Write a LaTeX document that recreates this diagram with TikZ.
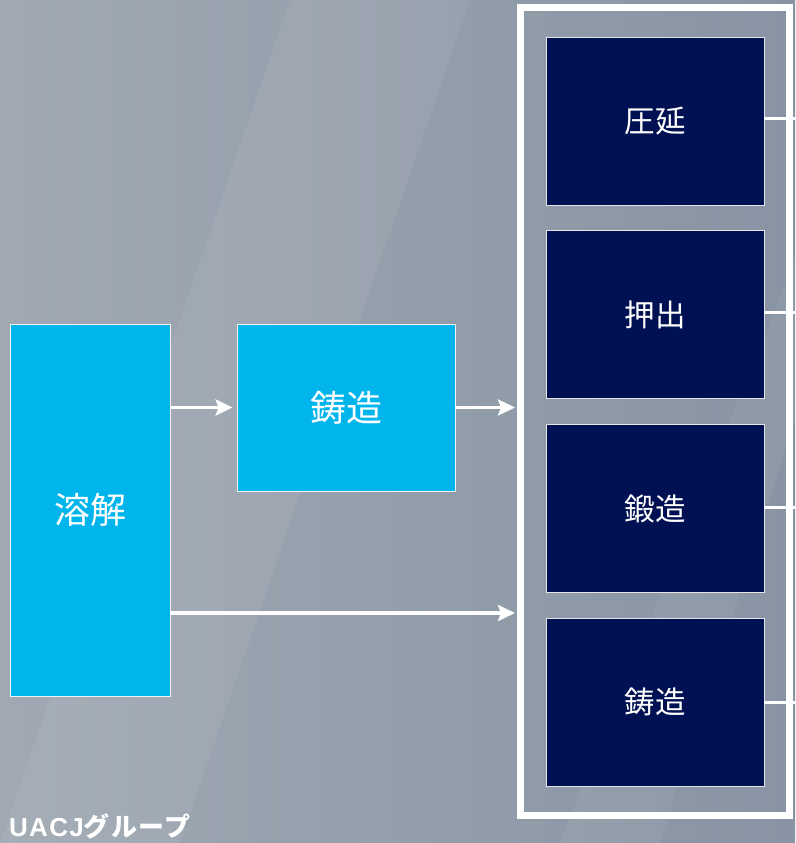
\documentclass[tikz,border=0pt]{standalone}
\usepackage{fontspec}
\newfontfamily\jp{Noto Sans CJK JP}
\newfontfamily\lblfont[LetterSpace=5]{Liberation Sans}
\newfontfamily\lbljp[LetterSpace=6]{Noto Sans CJK JP}
\usetikzlibrary{arrows.meta,calc}
\definecolor{lightblue}{HTML}{00B4EC}
\definecolor{navy}{HTML}{001153}
\definecolor{bgA}{HTML}{A0A9B3}
\definecolor{bgB}{HTML}{8894A3}
\begin{document}
\begin{tikzpicture}[x=1pt,y=-1pt,
  lbox/.style={draw=white!90!gray,line width=0.8pt,fill=lightblue,text=white,inner sep=0pt,font=\jp\fontsize{36}{42}\selectfont},
  dbox/.style={draw=white!80!gray,line width=0.8pt,fill=navy,text=white,inner sep=0pt,minimum width=218pt,minimum height=168pt,font=\jp\fontsize{30.5}{36}\selectfont},
  arr/.style={draw=white,line width=3.5pt,-{Stealth[length=17pt,width=16pt,inset=3pt]}},
  link/.style={draw=white,line width=3pt}]
\useasboundingbox (0,0) rectangle (795,843);
\shade[left color=bgA,right color=bgB] (0,0) rectangle (795,843);
\fill[white,opacity=0.06] (0,843) -- (180,843) -- (470,0) -- (290,0) -- cycle;
\fill[white,opacity=0.05] (560,843) -- (660,843) -- (795,420) -- (795,260) -- cycle;
% outer frame
\node[draw=white,line width=7pt,minimum width=269pt,minimum height=808pt,inner sep=0pt] (grp) at (655,411.5) {};
\coordinate (edge) at (795,0);
% boxes
\node[lbox,minimum width=160pt,minimum height=372pt] (melt) at (90,510) {溶解};
\node[lbox,minimum width=218pt,minimum height=167pt] (cast) at (346,407.5) {鋳造};
\node[dbox] (d1) at (655,121) {圧延};
\node[dbox] (d2) at (655,314.5) {押出};
\node[dbox] (d3) at (655,508.5) {鍛造};
\node[dbox] (d4) at (655,702) {鋳造};
% arrows
\draw[arr,shorten >=4pt] (melt.east |- cast.west) -- (cast.west);
\draw[arr,shorten >=2pt] (cast.east) -- (cast.east -| grp.west);
\coordinate (m3) at ($(melt.east)+(0,103)$);
\draw[arr,shorten >=2pt] (m3) -- (m3 -| grp.west);
% right links
\draw[link] ([yshift=3pt]d1.east) -- ([yshift=3pt]d1.east -| edge);
\draw[link] ([yshift=2pt]d2.east) -- ([yshift=2pt]d2.east -| edge);
\draw[link] ([yshift=1pt]d3.east) -- ([yshift=1pt]d3.east -| edge);
\draw[link] (d4.east) -- (d4.east -| edge);
% label
\node[anchor=base west,inner sep=0pt,text=white,font=\bfseries\fontsize{26}{30}\selectfont] (lbl) at (9,836) {\lblfont UACJ\lbljp グループ};
\end{tikzpicture}
\end{document}
